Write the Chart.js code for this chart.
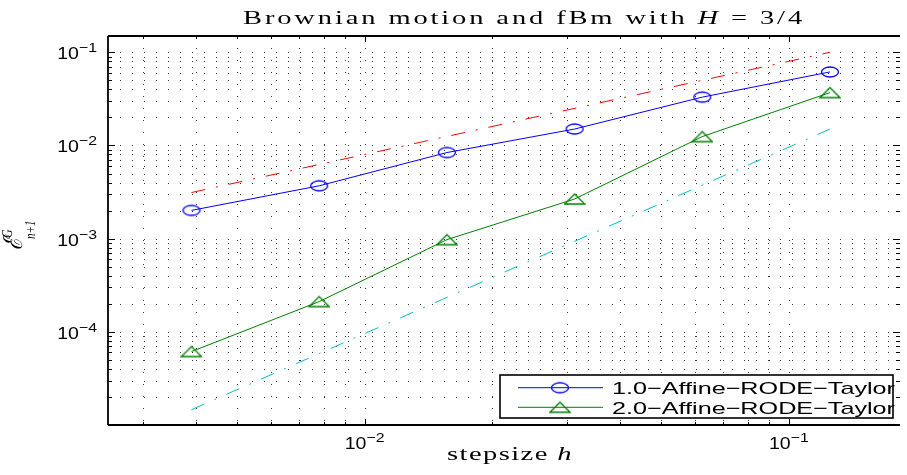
<!DOCTYPE html>
<html lang="en">
<head>
<meta charset="UTF-8">
<title>Brownian motion and fBm with H = 3/4</title>
<script src="https://cdn.jsdelivr.net/npm/chart.js"></script>
<style>
  html, body { margin: 0; padding: 0; background: #fff; }
  canvas { display: block; }
</style>
</head>
<body>
<canvas id="errChart" width="907" height="475"></canvas>
<script>
// step sizes h = 2^-8 ... 2^-3
const stepSizes = [0.00390625, 0.0078125, 0.015625, 0.03125, 0.0625, 0.125];
const errTaylor1 = [0.00201, 0.00369, 0.00839, 0.0150, 0.0330, 0.0615];
const errTaylor2 = [0.0000614, 0.000211, 0.000975, 0.00266, 0.01245, 0.0369];
// reference lines (slope 1 and slope 2), end points only
const refStepSizes = [0.00390625, 0.125];
const refOrder1 = [0.003125, 0.1];
const refOrder2 = [0.0000146, 0.015];
const seriesNames = ['1.0−Affine−RODE−Taylor', '2.0−Affine−RODE−Taylor'];
// major tick labels: 10^exp
const xTickValues = [0.01, 0.1];
const xTickExps = ['−2', '−1'];
const yTickValues = [0.0001, 0.001, 0.01, 0.1];
const yTickExps = ['−4', '−3', '−2', '−1'];

const SANS = '"Liberation Sans", Arial, sans-serif';
const SERIF = '"Liberation Serif", "Times New Roman", serif';

function toPts(xs, ys) { return xs.map((v, i) => ({ x: v, y: ys[i] })); }

// hollow markers, squashed like in the original figure
function markerCanvas(kind, color) {
  const c = document.createElement('canvas');
  c.width = 22; c.height = 14;
  const g = c.getContext('2d');
  g.strokeStyle = color;
  g.lineWidth = 1.3;
  g.beginPath();
  if (kind === 'circle') g.ellipse(11, 7, 8.5, 5, 0, 0, Math.PI * 2);
  else { g.moveTo(1, 12); g.lineTo(21, 12); g.lineTo(11, 2); g.closePath(); }
  g.stroke();
  return c;
}
const circleMark = markerCanvas('circle', '#0000ff');
const triMark = markerCanvas('tri', '#008000');

function logGridValues(min, max) {
  const vals = [];
  for (let e = Math.floor(Math.log10(min)); e <= Math.ceil(Math.log10(max)); e++) {
    for (let k = 1; k < 10; k++) {
      const v = k * Math.pow(10, e);
      if (v >= min && v <= max) vals.push({ v: v, major: k === 1 });
    }
  }
  return vals;
}

function measure(ctx, p) {
  ctx.font = p.font;
  ctx.letterSpacing = '0px';
  return ctx.measureText(p.text).width;
}
function partsWidth(ctx, parts) {
  return parts.reduce((w, p) => w + measure(ctx, p), 0);
}
function charCount(parts) {
  return parts.reduce((n, p) => n + p.text.length, 0);
}
// text stretched by sx and spaced by ls pixels per char (the original figure is stretched)
function stretchText(ctx, parts, x, y, sx, ls) {
  ls = ls || 0;
  ctx.save();
  ctx.translate(x, y);
  ctx.scale(sx, 1);
  let cx = 0;
  parts.forEach(p => {
    const w = measure(ctx, p);
    ctx.letterSpacing = (ls / sx) + 'px';
    ctx.fillText(p.text, cx, 0);
    cx += w + p.text.length * ls / sx;
  });
  ctx.restore();
}
function fitText(ctx, parts, x, y, target, sx) {
  const ls = (target - partsWidth(ctx, parts) * sx) / charCount(parts);
  stretchText(ctx, parts, x, y, sx, ls);
}

function drawPow(ctx, x, y, exp, align) {
  const sx = 1.22;
  const base = [{ text: '10', font: '16px ' + SANS }];
  const sup = [{ text: exp, font: '13px ' + SANS }];
  const wb = partsWidth(ctx, base) * sx;
  const we = partsWidth(ctx, sup) * sx;
  const x0 = align === 'right' ? x - wb - we : x - (wb + we) / 2;
  stretchText(ctx, base, x0, y, sx);
  stretchText(ctx, sup, x0 + wb, y - 7, sx);
}

const matlabAxes = {
  id: 'matlabAxes',
  beforeDatasetsDraw(chart) {
    const { ctx, chartArea: a, scales: { x, y } } = chart;
    ctx.save();
    ctx.strokeStyle = 'rgba(0,0,0,0.8)';
    ctx.lineWidth = 1;
    ctx.setLineDash([1, 11]);
    logGridValues(x.min, x.max).forEach(t => {
      const px = Math.round(x.getPixelForValue(t.v)) + 0.5;
      ctx.beginPath(); ctx.moveTo(px, a.top); ctx.lineTo(px, a.bottom); ctx.stroke();
    });
    logGridValues(y.min, y.max).forEach(t => {
      const py = Math.round(y.getPixelForValue(t.v)) + 0.5;
      ctx.beginPath(); ctx.moveTo(a.left, py); ctx.lineTo(a.right, py); ctx.stroke();
    });
    ctx.restore();
  },
  afterDatasetsDraw(chart) {
    const { ctx, chartArea: a, scales: { x, y } } = chart;
    ctx.save();
    ctx.strokeStyle = '#000';
    ctx.lineWidth = 1.8;
    ctx.beginPath();
    ctx.moveTo(a.left, a.top); ctx.lineTo(a.right, a.top);
    ctx.moveTo(a.left, a.top); ctx.lineTo(a.left, a.bottom);
    ctx.moveTo(a.left, a.bottom); ctx.lineTo(a.right, a.bottom);
    ctx.stroke();
    // inward ticks
    ctx.lineWidth = 1;
    ctx.beginPath();
    logGridValues(x.min, x.max).forEach(t => {
      const px = Math.round(x.getPixelForValue(t.v)) + 0.5;
      const len = t.major ? 6 : 3;
      ctx.moveTo(px, a.bottom); ctx.lineTo(px, a.bottom - len);
      ctx.moveTo(px, a.top); ctx.lineTo(px, a.top + len);
    });
    logGridValues(y.min, y.max).forEach(t => {
      const py = Math.round(y.getPixelForValue(t.v)) + 0.5;
      const len = t.major ? 7 : 4;
      ctx.moveTo(a.left, py); ctx.lineTo(a.left + len, py);
      ctx.moveTo(a.right, py); ctx.lineTo(a.right - len, py);
    });
    ctx.stroke();

    ctx.fillStyle = '#000';
    ctx.textBaseline = 'alphabetic';
    ctx.textAlign = 'left';
    xTickValues.forEach((v, i) => drawPow(ctx, x.getPixelForValue(v), a.bottom + 24.3, xTickExps[i], 'center'));
    yTickValues.forEach((v, i) => drawPow(ctx, a.left - 11, y.getPixelForValue(v) + 7, yTickExps[i], 'right'));

    // title
    const title = [
      { text: 'Brownian motion and fBm with ', font: '19px ' + SERIF },
      { text: 'H', font: 'italic 19px ' + SERIF },
      { text: ' = 3/4', font: '19px ' + SERIF }
    ];
    fitText(ctx, title, 243, 24, 562, 1.5);

    // x axis title
    const xTitle = [
      { text: 'stepsize ', font: '19px ' + SERIF },
      { text: 'h', font: 'italic 19px ' + SERIF }
    ];
    fitText(ctx, xTitle, 447, 460, 126, 1.5);

    // y axis title  E^G_{n+1}, rotated
    ctx.save();
    ctx.translate(22, 250);
    ctx.rotate(-Math.PI / 2);
    ctx.scale(1, 1.3);
    ctx.font = 'italic 20px "DejaVu Serif", serif';
    ctx.fillText('ℰ', 0, 0);
    const we = ctx.measureText('ℰ').width;
    ctx.font = 'italic 12px ' + SERIF;
    ctx.fillText('G', we, -8);
    ctx.font = 'italic 11px ' + SERIF;
    ctx.fillText('n+1', we - 1, 10);
    ctx.restore();
    ctx.restore();
  },
  afterDraw(chart) {
    const { ctx } = chart;
    const lx = 500, ly = 375, lw = 393, lh = 43;
    ctx.save();
    ctx.fillStyle = '#fff';
    ctx.fillRect(lx, ly, lw, lh);
    const rows = [387.7, 407.3];
    const marks = [circleMark, triMark];
    const sx = 283 / partsWidth(ctx, [{ text: seriesNames[0], font: '17px ' + SANS }]);
    rows.forEach((ry, i) => {
      const ds = chart.data.datasets[i];
      ctx.strokeStyle = ds.borderColor;
      ctx.lineWidth = 1;
      ctx.beginPath(); ctx.moveTo(518, ry); ctx.lineTo(603, ry); ctx.stroke();
      ctx.drawImage(marks[i], 560 - marks[i].width / 2, ry - marks[i].height / 2);
      ctx.fillStyle = '#000';
      stretchText(ctx, [{ text: ds.label, font: '17px ' + SANS }], 612, ry + 6.2, sx);
    });
    ctx.strokeStyle = '#000';
    ctx.lineWidth = 1.6;
    ctx.strokeRect(lx, ly, lw, lh);
    ctx.restore();
  }
};

new Chart(document.getElementById('errChart'), {
  type: 'line',
  data: {
    datasets: [
      {
        label: seriesNames[0],
        data: toPts(stepSizes, errTaylor1),
        borderColor: '#0000ff',
        borderWidth: 1,
        pointStyle: circleMark,
        pointRadius: 6
      },
      {
        label: seriesNames[1],
        data: toPts(stepSizes, errTaylor2),
        borderColor: '#008000',
        borderWidth: 1,
        pointStyle: triMark,
        pointRadius: 6
      },
      {
        label: 'slope 1',
        data: toPts(refStepSizes, refOrder1),
        borderColor: '#ff0000',
        borderWidth: 1,
        borderDash: [14, 11, 2, 11],
        pointRadius: 0
      },
      {
        label: 'slope 2',
        data: toPts(refStepSizes, refOrder2),
        borderColor: '#00c0c0',
        borderWidth: 1,
        borderDash: [14, 11, 2, 11],
        pointRadius: 0
      }
    ]
  },
  options: {
    responsive: false,
    animation: false,
    devicePixelRatio: 1,
    layout: { padding: { left: 108, right: 0, top: 36, bottom: 50 } },
    scales: {
      x: { type: 'logarithmic', min: 0.002483, max: 0.1828, display: false },
      y: { type: 'logarithmic', min: 0.00001, max: 0.1495, display: false }
    },
    plugins: {
      legend: { display: false },
      tooltip: { enabled: false }
    }
  },
  plugins: [matlabAxes]
});
</script>
</body>
</html>
